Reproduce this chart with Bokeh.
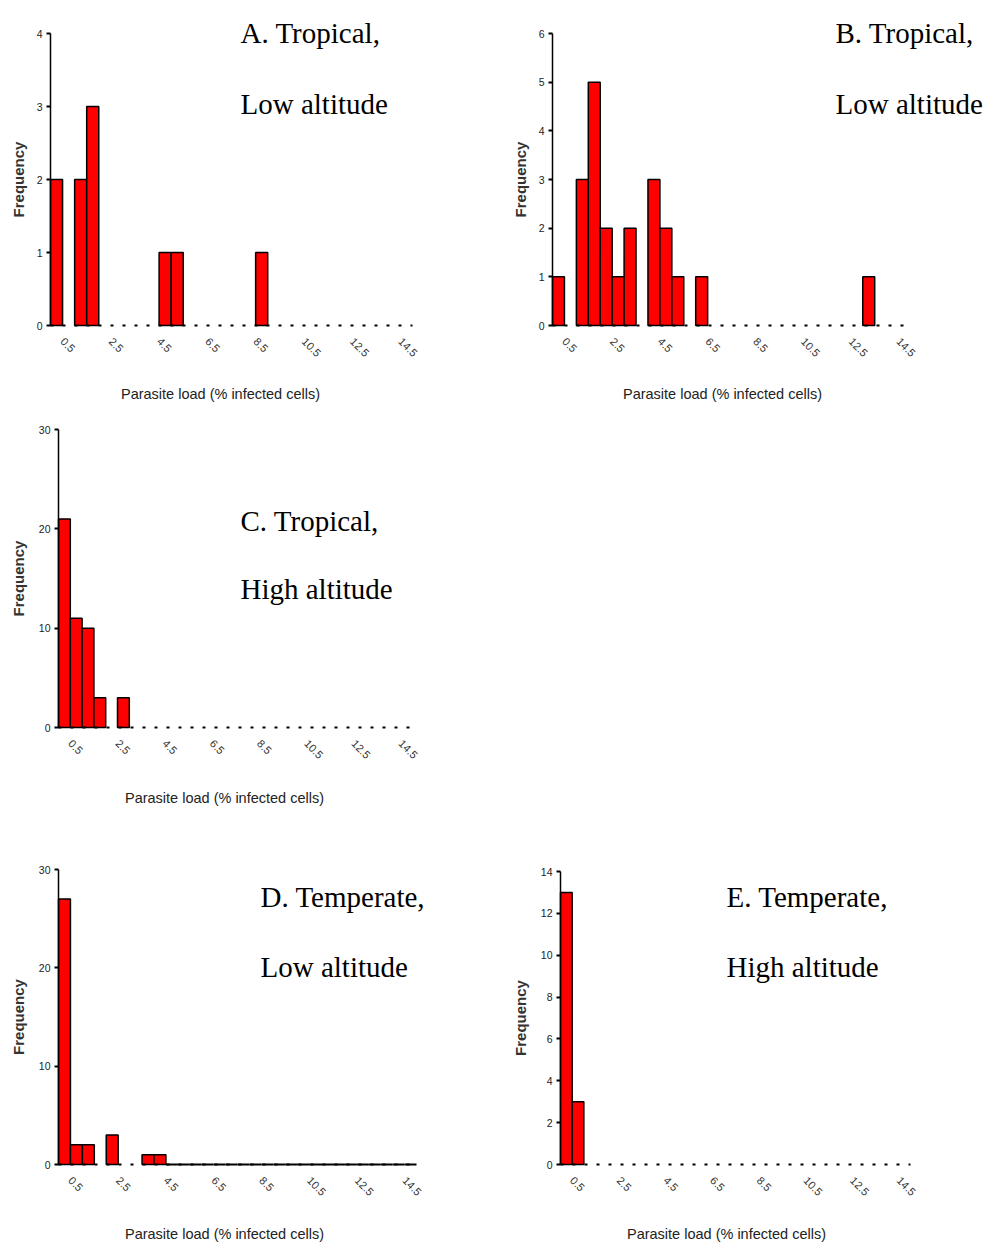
import math

from bokeh.plotting import figure
from bokeh.layouts import row, column
from bokeh.models import Range1d, FixedTicker, Label, Spacer, LinearAxis
from bokeh.embed import file_html
from bokeh.resources import INLINE

# ---- histogram data: bin index (0.5 % wide bins) and number of samples ----
N_BINS = 30
# labels sit on the upper edge of every fourth bin
x_tick_edges = [1, 5, 9, 13, 17, 21, 25, 29]
x_tick_labels = ["0.5", "2.5", "4.5", "6.5", "8.5", "10.5", "12.5", "14.5"]

a_bins = [0, 2, 3, 9, 10, 17]
a_counts = [2, 2, 3, 1, 1, 1]

b_bins = [0, 2, 3, 4, 5, 6, 8, 9, 10, 12, 26]
b_counts = [1, 3, 5, 2, 1, 2, 3, 2, 1, 1, 1]

c_bins = [0, 1, 2, 3, 5]
c_counts = [21, 11, 10, 3, 3]

d_bins = [0, 1, 2, 4, 7, 8]
d_counts = [27, 2, 2, 3, 1, 1]

e_bins = [0, 1]
e_counts = [13, 3]

a_yticks = [0, 1, 2, 3, 4]
b_yticks = [0, 1, 2, 3, 4, 5, 6]
c_yticks = [0, 10, 20, 30]
d_yticks = [0, 10, 20, 30]
e_yticks = [0, 2, 4, 6, 8, 10, 12, 14]

X_LABEL = "Parasite load (% infected cells)"
Y_LABEL = "Frequency"

# box: panel rectangle on the page; axes: where the axes' corner and ends lie
panels = [
    dict(bins=a_bins, counts=a_counts, yticks=a_yticks,
         lines=["A. Tropical,", "Low altitude"],
         box=(0, 0, 492, 415), axes=(50, 33, 412, 325),
         title_xy=(240, 32, 103), xlab_xy=(220, 393), ylab_x=18,
         outline_empty_from=None),
    dict(bins=b_bins, counts=b_counts, yticks=b_yticks,
         lines=["B. Tropical,", "Low altitude"],
         box=(492, 0, 493, 415), axes=(552, 33, 910, 325),
         title_xy=(835, 32, 103), xlab_xy=(722, 393), ylab_x=520,
         outline_empty_from=None),
    dict(bins=c_bins, counts=c_counts, yticks=c_yticks,
         lines=["C. Tropical,", "High altitude"],
         box=(0, 415, 492, 425), axes=(58, 429, 412, 727),
         title_xy=(240, 520, 588), xlab_xy=(224, 797), ylab_x=18,
         outline_empty_from=None),
    dict(bins=d_bins, counts=d_counts, yticks=d_yticks,
         lines=["D. Temperate,", "Low altitude"],
         box=(0, 840, 492, 405), axes=(58, 869, 416, 1164),
         title_xy=(260, 896, 966), xlab_xy=(224, 1233), ylab_x=18,
         outline_empty_from=9),
    dict(bins=e_bins, counts=e_counts, yticks=e_yticks,
         lines=["E. Temperate,", "High altitude"],
         box=(492, 840, 493, 405), axes=(560, 871, 910, 1164),
         title_xy=(726, 896, 966), xlab_xy=(726, 1233), ylab_x=520,
         outline_empty_from=None),
]


def make_panel(spec):
    ox, oy, w, h = spec["box"]
    al, at, ar, ab = spec["axes"]
    ymax = spec["yticks"][-1]

    # page coordinates -> data coordinates of this panel
    def to_x(gx):
        return (gx - al) / (ar - al) * N_BINS

    def to_y(gy):
        return (ab - gy) / (ab - at) * ymax

    p = figure(width=w, height=h, title=None,
               x_range=Range1d(to_x(ox), to_x(ox + w)),
               y_range=Range1d(to_y(oy + h), to_y(oy)),
               x_axis_type=None, y_axis_type=None,
               min_border_left=0, min_border_right=0,
               min_border_top=0, min_border_bottom=0,
               output_backend="svg", toolbar_location=None)
    p.outline_line_color = None
    p.xgrid.visible = False
    p.ygrid.visible = False
    p.background_fill_color = "white"
    p.border_fill_color = "white"

    # x axis at zero count: dashed baseline, rotated class labels
    xa = LinearAxis(fixed_location=0, bounds=(0, N_BINS),
                    ticker=FixedTicker(ticks=x_tick_edges))
    xa.major_label_overrides = {e: t for e, t in zip(x_tick_edges, x_tick_labels)}
    xa.major_label_orientation = -math.pi / 4
    xa.major_label_text_font = "Liberation Sans"
    xa.major_label_text_font_size = "11px"
    xa.major_label_text_color = "#333333"
    xa.major_label_standoff = 8
    xa.axis_line_dash = "3 9"
    xa.axis_line_width = 2
    xa.axis_line_color = "black"
    xa.major_tick_line_color = None
    xa.minor_tick_line_color = None
    p.add_layout(xa, "below")

    # y axis at the first bin edge
    ya = LinearAxis(fixed_location=0, bounds=(0, ymax),
                    ticker=FixedTicker(ticks=spec["yticks"]))
    ya.major_tick_out = 4
    ya.major_tick_in = 0
    ya.major_tick_line_width = 2
    ya.minor_tick_line_color = None
    ya.axis_line_width = 1.5
    ya.axis_line_color = "black"
    ya.major_label_text_font = "Liberation Sans"
    ya.major_label_text_font_size = "10.5px"
    ya.major_label_text_color = "#222222"
    ya.major_label_standoff = 4
    p.add_layout(ya, "left")

    # histogram bars
    lefts = spec["bins"]
    rights = [b + 1 for b in lefts]
    p.quad(left=lefts, right=rights, bottom=0, top=spec["counts"],
           fill_color="#FF0000", line_color="black", line_width=1.5)

    # empty bins drawn as flat outlined bars
    if spec["outline_empty_from"] is not None:
        start = spec["outline_empty_from"]
        empty = [b for b in range(start, N_BINS) if b not in lefts]
        p.quad(left=empty, right=[b + 1 for b in empty], bottom=0, top=0,
               fill_color=None, line_color="black", line_width=2)

    # panel heading, two lines
    tx, ty1, ty2 = spec["title_xy"]
    for text, gy in zip(spec["lines"], (ty1, ty2)):
        p.add_layout(Label(x=to_x(tx), y=to_y(gy), text=text,
                           text_font="Liberation Serif", text_font_size="29px",
                           text_color="black", text_align="left",
                           text_baseline="alphabetic"))

    # axis titles
    lx, ly = spec["xlab_xy"]
    p.add_layout(Label(x=to_x(lx), y=to_y(ly), text=X_LABEL,
                       text_font="Liberation Sans", text_font_size="14.5px",
                       text_color="#222222", text_align="center",
                       text_baseline="middle"))
    p.add_layout(Label(x=to_x(spec["ylab_x"]), y=ymax / 2, text=Y_LABEL,
                       angle=math.pi / 2,
                       text_font="Liberation Sans", text_font_size="15px",
                       text_font_style="bold", text_color="#333333",
                       text_align="center", text_baseline="middle"))
    return p


pa, pb, pc, pd, pe = [make_panel(s) for s in panels]

layout = column(
    row(pa, pb),
    row(pc, Spacer(width=493, height=425)),
    row(pd, pe),
)

open("out.html", "w").write(file_html(layout, INLINE))
